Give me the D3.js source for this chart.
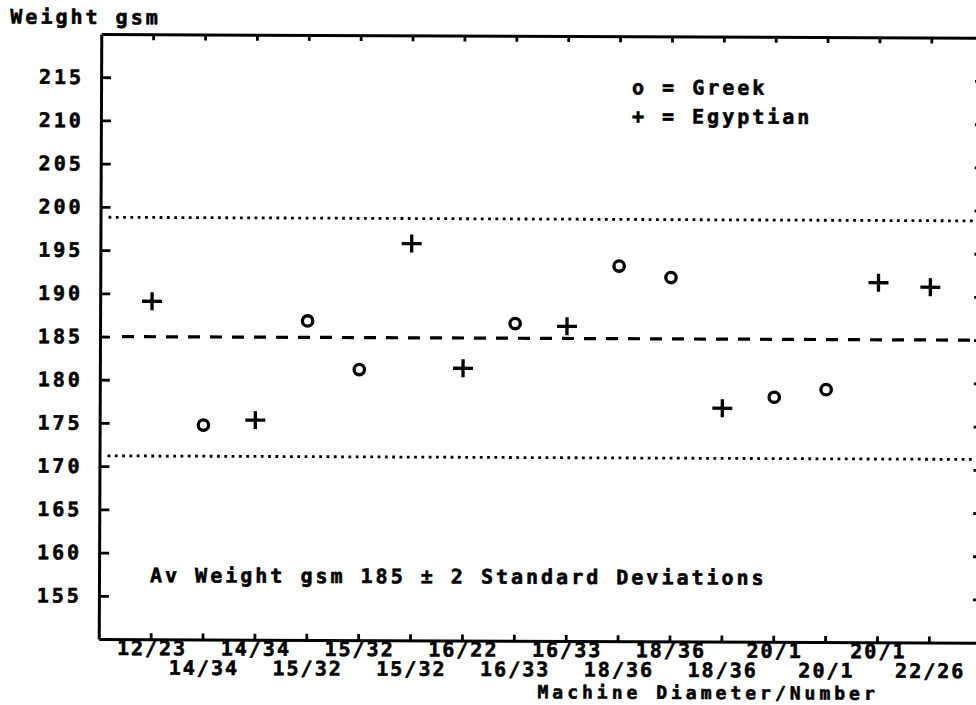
<!DOCTYPE html>
<html>
<head>
<meta charset="utf-8">
<script src="https://cdn.jsdelivr.net/npm/d3@7/dist/d3.min.js"></script>
<style>
  body { margin: 0; background: #fff; }
  text { font-family: "DejaVu Sans Mono", monospace; font-weight: bold; fill: #000;
         stroke: #000; stroke-width: 0.6px; }
</style>
</head>
<body>
<div class="chart"></div>
<script>
// machine diameter / number, one per tick along the bottom
const categories = ["12/23", "14/34", "14/34", "15/32", "15/32", "15/32", "16/22", "16/33",
                    "16/33", "18/36", "18/36", "18/36", "20/1", "20/1", "20/1", "22/26"];
// tick index (1-based) and weight for each series
const greekPos = [2, 4, 5, 8, 10, 11, 13, 14];
const greekVals = [174.8, 186.9, 181.3, 186.7, 193.4, 192.1, 178.3, 179.2];
const egyptPos = [1, 3, 6, 7, 9, 12, 15, 16];
const egyptVals = [189.1, 175.4, 195.9, 181.5, 186.4, 177.0, 191.6, 191.1];
const yTicks = [155, 160, 165, 170, 175, 180, 185, 190, 195, 200, 205, 210, 215];
const meanWeight = 185;
const sdWeight = 6.9;

var width = 976, height = 705;
var plotLeft = 100, plotRight = 982, plotTop = 34, plotBottom = 639;

var x = d3.scaleLinear().domain([0, 17]).range([plotLeft, plotRight]);
var y = d3.scaleLinear().domain([150, 220]).range([plotBottom, plotTop]);

var svg = d3.select(".chart").append("svg")
    .attr("width", width)
    .attr("height", height);

// the scan is slightly skewed
var g = svg.append("g").attr("transform", "rotate(0.24," + plotLeft + ",340)");

// reference lines
g.append("line")
    .attr("x1", plotLeft + 8).attr("x2", plotRight)
    .attr("y1", y(meanWeight + 2 * sdWeight)).attr("y2", y(meanWeight + 2 * sdWeight))
    .attr("stroke", "#000").attr("stroke-width", 2.8).attr("stroke-dasharray", "2.8,4.5");
g.append("line")
    .attr("x1", plotLeft + 8).attr("x2", plotRight)
    .attr("y1", y(meanWeight - 2 * sdWeight)).attr("y2", y(meanWeight - 2 * sdWeight))
    .attr("stroke", "#000").attr("stroke-width", 2.8).attr("stroke-dasharray", "2.8,4.5");
g.append("line")
    .attr("x1", plotLeft + 22).attr("x2", plotRight)
    .attr("y1", y(meanWeight)).attr("y2", y(meanWeight))
    .attr("stroke", "#000").attr("stroke-width", 3.2).attr("stroke-dasharray", "12,10");

// axes
var yAxis = g.append("g")
    .attr("transform", "translate(" + plotLeft + ",0)")
    .call(d3.axisLeft(y).tickValues(yTicks).tickSize(-10).tickSizeOuter(0).tickPadding(20));
yAxis.selectAll("text").style("font-size", "20px").attr("letter-spacing", 3).attr("dx", 3);

g.append("g")
    .attr("transform", "translate(" + plotRight + ",0)")
    .call(d3.axisRight(y).tickValues(yTicks).tickSize(-8).tickSizeOuter(0).tickFormat(""));

g.append("g")
    .attr("transform", "translate(0," + plotTop + ")")
    .call(d3.axisTop(x).tickValues(d3.range(1, 17)).tickSize(-6).tickSizeOuter(0).tickFormat(""));

var xAxis = g.append("g")
    .attr("transform", "translate(0," + plotBottom + ")")
    .call(d3.axisBottom(x).tickValues(d3.range(1, 17)).tickSize(-6).tickSizeOuter(0)
      .tickFormat(function(i) { return categories[i - 1]; }));
xAxis.selectAll("text")
    .style("font-size", "20px")
    .attr("letter-spacing", 2)
    .attr("dx", 1)
    .attr("dy", 0)
    .attr("y", function(i) { return i % 2 === 1 ? 16 : 35.5; });

svg.selectAll(".domain").attr("stroke-width", 3);
svg.selectAll(".tick line").attr("stroke-width", 2.8);

// markers
g.selectAll(".greek")
    .data(greekPos)
  .enter().append("circle")
    .attr("class", "greek")
    .attr("cx", function(d) { return x(d); })
    .attr("cy", function(d, i) { return y(greekVals[i]); })
    .attr("r", 5.2)
    .attr("fill", "none")
    .attr("stroke", "#000")
    .attr("stroke-width", 3.3);

g.selectAll(".egypt")
    .data(egyptPos)
  .enter().append("path")
    .attr("class", "egypt")
    .attr("d", function(d, i) {
      var cx = x(d), cy = y(egyptVals[i]);
      return "M" + (cx - 10) + "," + cy + "H" + (cx + 10) + "M" + cx + "," + (cy - 9) + "V" + (cy + 9);
    })
    .attr("stroke", "#000")
    .attr("stroke-width", 3.3);

// texts
function label(str, tx, ty, size, spacing) {
  g.append("text")
    .attr("x", tx).attr("y", ty)
    .style("font-size", (size || 20) + "px")
    .attr("letter-spacing", spacing || 3)
    .text(str);
}
label("Weight gsm", 9, 24);
label("o = Greek", 631, 92);
label("+ = Egyptian", 631, 121);
label("Av Weight gsm 185 \u00b1 2 Standard Deviations", 151, 582);
label("Machine Diameter/Number", 539, 696.5, 18, 4);
</script>
</body>
</html>
